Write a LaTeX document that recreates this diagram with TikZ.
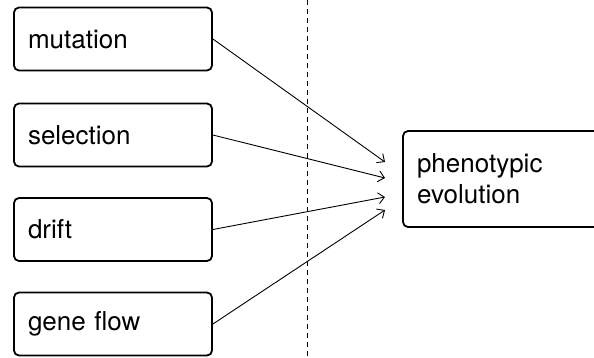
\documentclass[tikz,border=0pt]{standalone}
\usepackage{fontspec}
\setmainfont{TeX Gyre Heros}
\usetikzlibrary{arrows.meta}
\begin{document}
\begin{tikzpicture}[x=1pt,y=-1pt,
  factor/.style={draw, line width=1.8pt, rounded corners=5pt, inner sep=0pt,
    minimum width=198pt, minimum height=63pt, text width=170pt, align=left,
    font=\fontsize{26}{31}\selectfont},
  outcome/.style={draw, line width=1.8pt, rounded corners=5pt, inner sep=0pt,
    minimum width=200pt, minimum height=96pt, text width=172pt, align=left,
    font=\fontsize{26}{31}\selectfont},
  link/.style={line width=0.9pt, -{Straight Barb[length=6pt,width=11pt]}},
  divider/.style={line width=0.9pt, dash pattern=on 5pt off 4pt}]
  \useasboundingbox (0,0) rectangle (594,357);
  \node[factor] (mut) at (113,39) {mutation};
  \node[factor] (sel) at (113,135) {selection};
  \node[factor] (dri) at (113,229.5) {drift};
  \node[factor] (gen) at (113,324) {gene flow};
  \node[outcome] (phe) at (503,179) {phenotypic\\evolution};
  \coordinate (t1) at (385,162);
  \coordinate (t2) at (385,178);
  \coordinate (t3) at (385,197);
  \coordinate (t4) at (385,210);
  \coordinate (dtop) at (307,0);
  \coordinate (dbot) at (307,357);
  \draw[divider] (dtop) -- (dbot);
  \draw[link] (mut.east) -- (t1);
  \draw[link] (sel.east) -- (t2);
  \draw[link] (dri.east) -- (t3);
  \draw[link] (gen.east) -- (t4);
\end{tikzpicture}
\end{document}
